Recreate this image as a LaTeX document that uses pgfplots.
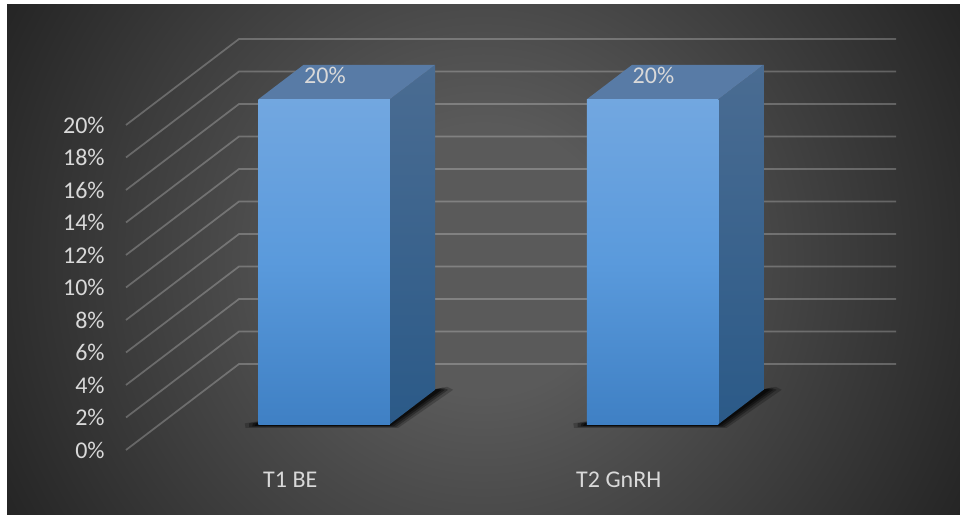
\documentclass[border=0pt]{standalone}
\usepackage{pgfplots}
\pgfplotsset{compat=1.18}
\usepackage{fontspec}
\setmainfont{Carlito}
\definecolor{labeltext}{HTML}{D9D9D9}
\definecolor{panelmid}{HTML}{5A5A5A}
\definecolor{panelmid2}{HTML}{484848}
\definecolor{panelout}{HTML}{252525}
\definecolor{barsidetop}{HTML}{4A6C92}
\definecolor{barsidebot}{HTML}{2B5A88}
\definecolor{bartop}{HTML}{587BA6}
\definecolor{barfronttop}{HTML}{72A7E0}
\definecolor{barfrontmid}{HTML}{5A9ADC}
\definecolor{barfrontbot}{HTML}{3F80C4}
\pgfdeclareradialshading{panelglow}{\pgfpoint{0bp}{0bp}}{%
  color(0bp)=(panelmid);color(5.6bp)=(panelmid);color(11.25bp)=(panelmid2);color(22.5bp)=(panelout);color(50bp)=(panelout)}
\begin{document}
\begin{tikzpicture}[x=0.75pt,y=0.75pt]
  % page and dark panel, in units of one pixel; the panel runs off the right and bottom of the page
  \fill[white] (0,0) rectangle (960,514);
  \begin{scope}
    \clip (7,-12) rectangle (972,509);
    \fill[panelout] (7,-12) rectangle (972,509);
    \shade[shading=panelglow] (483,254) circle (600);
  \end{scope}
  \begin{axis}[
    at={(94.5pt,48pt)}, anchor=origin,
    x={(246.375pt,0pt)}, y={(84.75pt,64.5pt)}, z={(0pt,12.1875pt)},
    xmin=0, xmax=2, ymin=0, ymax=1, zmin=0, zmax=20,
    clip=false,
    axis line style={draw=none},
    major tick length=0pt,
    minor tick num=0,
    xtick={0.5,1.5}, xticklabels={T1 BE, T2 GnRH},
    ytick=\empty,
    ztick={0,2,...,20},
    zticklabel={\pgfmathprintnumber[assume math mode=true]{\tick}\%},
    tick label style={font=\fontsize{18}{22}\selectfont, text=labeltext},
    zticklabel style={anchor=east, xshift=-12.5pt},
    xticklabel style={anchor=center, yshift=-22.5pt},
  ]
    % wall and floor grid: front edge, then back wall
    \pgfplotsinvokeforeach{0,2,...,20}{
      \addplot3[draw=white, draw opacity=0.24, line width=1.3pt, mark=none]
        coordinates {(0,0,#1) (0,1,#1) (2,1,#1)};
    }
    % floor shadows, layered for a soft edge
    \pgfplotsinvokeforeach{0,1}{
      \addplot3[draw=none, fill=black, fill opacity=0.22, mark=none] coordinates
        {(#1+0.255,0.31,0) (#1+0.275,0.258,0) (#1+0.74,0.258,0) (#1+0.755,0.70,0) (#1+0.725,0.735,0) (#1+0.5,0.5,0)} --cycle;
      \addplot3[draw=none, fill=black, fill opacity=0.3, mark=none] coordinates
        {(#1+0.268,0.31,0) (#1+0.283,0.266,0) (#1+0.73,0.266,0) (#1+0.74,0.70,0) (#1+0.715,0.725,0) (#1+0.5,0.5,0)} --cycle;
      \addplot3[draw=none, fill=black, fill opacity=0.4, mark=none] coordinates
        {(#1+0.28,0.31,0) (#1+0.29,0.274,0) (#1+0.72,0.274,0) (#1+0.73,0.70,0) (#1+0.71,0.715,0) (#1+0.5,0.5,0)} --cycle;
      \addplot3[draw=none, fill=black, fill opacity=0.5, mark=none] coordinates
        {(#1+0.29,0.31,0) (#1+0.295,0.28,0) (#1+0.71,0.28,0) (#1+0.72,0.70,0) (#1+0.705,0.71,0) (#1+0.5,0.5,0)} --cycle;
    }
    % T1 BE column: side, top, front
    \addplot3[draw=none, top color=barsidetop, bottom color=barsidebot, mark=none] coordinates
      {(0.7,0.3,20) (0.7,0.7,20) (0.7,0.7,0) (0.7,0.3,0)} --cycle;
    \addplot3[draw=none, fill=bartop, mark=none] coordinates
      {(0.3,0.3,20) (0.3,0.7,20) (0.7,0.7,20) (0.7,0.3,20)} --cycle;
    \addplot3[draw=none, top color=barfronttop, bottom color=barfrontbot, middle color=barfrontmid, mark=none] coordinates
      {(0.3,0.3,20) (0.7,0.3,20) (0.7,0.3,0) (0.3,0.3,0)} --cycle;
    % T2 GnRH column: side, top, front
    \addplot3[draw=none, top color=barsidetop, bottom color=barsidebot, mark=none] coordinates
      {(1.7,0.3,20) (1.7,0.7,20) (1.7,0.7,0) (1.7,0.3,0)} --cycle;
    \addplot3[draw=none, fill=bartop, mark=none] coordinates
      {(1.3,0.3,20) (1.3,0.7,20) (1.7,0.7,20) (1.7,0.3,20)} --cycle;
    \addplot3[draw=none, top color=barfronttop, bottom color=barfrontbot, middle color=barfrontmid, mark=none] coordinates
      {(1.3,0.3,20) (1.7,0.3,20) (1.7,0.3,0) (1.3,0.3,0)} --cycle;
    % value labels above the front top edge of each column
    \addplot3[draw=none, mark=none, point meta=z,
      nodes near coords={\pgfmathprintnumber[assume math mode=true]{\pgfplotspointmeta}\%},
      every node near coord/.style={font=\fontsize{18}{22}\selectfont, text=labeltext, anchor=center, xshift=0.6pt, yshift=18pt}]
      coordinates {(0.5,0.3,20) (1.5,0.3,20)};
  \end{axis}
  \pgfresetboundingbox
  \useasboundingbox (0,0) rectangle (960,514);
\end{tikzpicture}
\end{document}
